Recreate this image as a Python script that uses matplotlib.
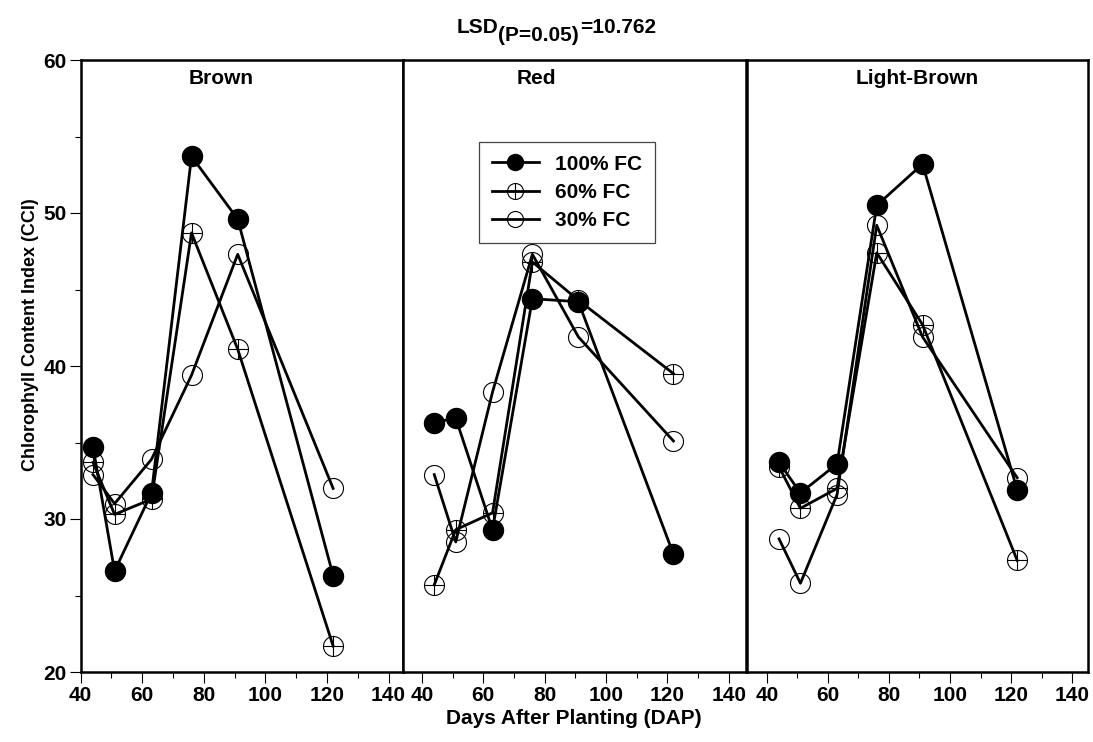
import matplotlib
matplotlib.use('Agg')
import matplotlib.pyplot as plt
from matplotlib.ticker import MultipleLocator
from matplotlib.legend_handler import HandlerTuple

plt.rcParams['font.family'] = ['Liberation Sans', 'DejaVu Sans']
plt.rcParams['font.weight'] = 'bold'

# sampling days and chlorophyll values per soil colour
days = [44, 51, 63, 76, 91, 122]

brown_100 = [34.7, 26.6, 31.7, 53.7, 49.6, 26.3]
brown_60 = [33.7, 30.3, 31.3, 48.7, 41.1, 21.7]
brown_30 = [32.9, 31.0, 33.9, 39.4, 47.3, 32.0]

red_100 = [36.3, 36.6, 29.3, 44.4, 44.2, 27.7]
red_60 = [25.7, 29.3, 30.4, 46.8, 44.3, 39.5]
red_30 = [32.9, 28.5, 38.3, 47.3, 41.9, 35.1]

lb_100 = [33.7, 31.7, 33.6, 50.5, 53.2, 31.9]
lb_60 = [33.4, 30.7, 32.0, 47.4, 42.7, 27.3]
lb_30 = [28.7, 25.8, 31.6, 49.2, 41.9, 32.7]

soils = ['Brown', 'Red', 'Light-Brown']
labels = ['100% FC', '60% FC', '30% FC']
series = [(brown_100, brown_60, brown_30),
          (red_100, red_60, red_30),
          (lb_100, lb_60, lb_30)]

W, H = 1093, 742
fig = plt.figure(figsize=(W / 100, H / 100), dpi=100)


def px_rect(l, t, r, b):
    return [l / W, 1 - b / H, (r - l) / W, (b - t) / H]


rects = [px_rect(80.7, 60, 402.7, 672),
         px_rect(403, 60, 745.5, 672),
         px_rect(746.7, 60, 1087.7, 672)]
xlims = [(40, 144.6), (33.8, 145.5), (33.4, 145.1)]
title_x = [85.5, 77.4, 89.2]

ms = 14.4
handles = None
for i in range(3):
    ax = fig.add_axes(rects[i])
    v100, v60, v30 = series[i]
    l30, = ax.plot(days, v30, color='k', lw=2, marker='o', ms=ms,
                   mfc='none', mec='k', mew=0.8, zorder=3)
    l60, = ax.plot(days, v60, color='k', lw=2, marker='o', ms=ms,
                   mfc='none', mec='k', mew=0.8, zorder=4)
    p60, = ax.plot(days, v60, ls='none', marker='+', ms=ms,
                   mec='k', mew=0.8, zorder=4)
    l100, = ax.plot(days, v100, color='k', lw=2, marker='o', ms=ms,
                    mfc='k', mec='k', zorder=5)
    if handles is None:
        handles = [l100, (l60, p60), l30]

    ax.set_xlim(*xlims[i])
    ax.set_ylim(20, 60)
    ax.xaxis.set_major_locator(MultipleLocator(20))
    ax.xaxis.set_minor_locator(MultipleLocator(10))
    ax.yaxis.set_major_locator(MultipleLocator(10))
    ax.yaxis.set_minor_locator(MultipleLocator(5))
    for s in ax.spines.values():
        s.set_linewidth(1.8)
    ax.tick_params(which='major', direction='out', length=8, width=0.8,
                   labelsize=15, pad=2)
    ax.tick_params(which='minor', direction='out', length=4.3, width=0.8)
    if i > 0:
        ax.tick_params(axis='y', which='both', left=False, labelleft=False)
    ax.text(title_x[i], 58.8, soils[i], ha='center', va='center',
            fontsize=15, fontweight='bold')

    if i == 1:
        ax.legend(handles, labels, loc='upper left',
                  bbox_to_anchor=(479 / W, 1 - 142 / H),
                  bbox_transform=fig.transFigure, borderaxespad=0,
                  fontsize=15, frameon=True, fancybox=False,
                  edgecolor='#444444', framealpha=1, markerscale=0.8,
                  handlelength=2.3, handletextpad=0.75, labelspacing=0.45,
                  borderpad=0.6,
                  handler_map={tuple: HandlerTuple(ndivide=1)})
        ax.get_legend().get_frame().set_linewidth(0.9)

# axis labels
fig.text(574 / W, 1 - 718 / H, 'Days After Planting (DAP)', ha='center',
         va='center', fontsize=15, fontweight='bold')
fig.text(31 / W, 1 - 335 / H, 'Chlorophyll Content Index (CCI)',
         rotation=90, ha='center', va='center', fontsize=13,
         fontweight='bold')

# LSD header with subscript
fig.text(456.7 / W, 1 - 33 / H, 'LSD', ha='left', va='baseline',
         fontsize=15, fontweight='bold')
fig.text(498 / W, 1 - 41 / H, '(P=0.05)', ha='left', va='baseline',
         fontsize=15, fontweight='bold')
fig.text(580 / W, 1 - 33 / H, '=10.762', ha='left', va='baseline',
         fontsize=15, fontweight='bold')

fig.savefig('out.png', dpi=100)
